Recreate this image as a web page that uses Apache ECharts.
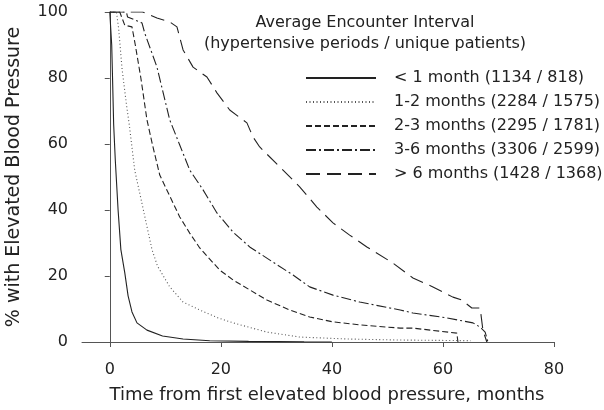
<!DOCTYPE html>
<html>
<head>
<meta charset="utf-8">
<script src="https://cdn.jsdelivr.net/npm/echarts@6/dist/echarts.min.js"></script>
<style>
html,body{margin:0;padding:0;background:#fff;}
#chart{width:604px;height:410px;}
</style>
</head>
<body>
<div id="chart"></div>
<script>
// ---- data (months, % with elevated BP) ----
const seriesNames = ['< 1 month (1134 / 818)', '1-2 months (2284 / 1575)', '2-3 months (2295 / 1781)', '3-6 months (3306 / 2599)', '> 6 months (1428 / 1368)'];
const lt1 = [[0,100],[0.2,100],[0.35,90],[0.5,80],[0.7,66],[1.0,55],[1.5,40],[2.0,28],[2.7,21],[3.3,14],[4.0,9.1],[4.9,5.8],[6.7,3.6],[9.5,1.8],[13.2,0.9],[18,0.4],[25,0.2],[35,0.05],[40,0]];
const m1to2 = [[0,100],[1.2,100],[1.6,95],[2.2,83],[3.0,72],[3.5,66],[4.5,52],[5.8,42],[7.6,28],[8.6,23],[10.8,16.7],[13.2,12.1],[16.2,9.7],[19.5,7.3],[22.2,5.8],[28.3,3.0],[34.2,1.5],[43,0.9],[52,0.6],[65,0.4]];
const m2to3 = [[0,100],[1.8,100],[2.7,96],[4.0,95.5],[4.6,90],[5.6,80],[6.7,67.3],[7.7,59.7],[9.0,50.6],[10.3,46],[12.6,37.9],[14.4,33],[16.2,28.5],[19.8,21.8],[22.2,18.8],[25.2,15.8],[28.3,12.7],[32.4,9.7],[36,7.6],[40.2,6.1],[45,5.2],[52.3,4.2],[54.6,4.2],[62.5,2.7],[62.7,0]];
const m3to6 = [[0,100],[3.0,100],[3.2,98.5],[5.8,96.7],[6.3,93.6],[8.5,83.3],[10.8,67.3],[12.6,59.7],[14.4,52.1],[16.8,46.1],[19.3,39.1],[22.2,33.3],[25.2,28.8],[29.4,24.2],[33,20.3],[36,16.7],[40.2,14.2],[45,12.1],[52.3,9.7],[54.6,8.8],[60.7,7.3],[65.4,5.8],[66.7,4.5],[67.6,3.0],[68.1,0]];
const gt6 = [[0,100],[5.9,100],[8.5,98.2],[10.8,97],[12.1,95.5],[13.2,88.5],[15,83.3],[17.5,80.3],[19.3,75.5],[21.6,70.3],[24.7,66.4],[25.8,62.1],[27,59.1],[31.2,52.1],[34.2,47],[37.3,40.9],[40.2,36.1],[43.2,32.4],[46.3,28.8],[51,23.9],[54.6,19.4],[58.2,16.7],[61.8,13.6],[63.4,12.7],[65.2,10.3],[66.7,10.3],[67.2,3.6],[67.9,0]];
const xTicks = [0, 20, 40, 60, 80];
const titleLines = ['Average Encounter Interval', '(hypertensive periods / unique patients)'];
const xName = 'Time from first elevated blood pressure, months';
const yName = '% with Elevated Blood Pressure';

const dashes = ['solid', [1, 2.5], [6, 3], [10, 3, 2, 3], [14, 7]];
const lineColors = ['#222', '#555', '#222', '#222', '#222'];
const dataSets = [lt1, m1to2, m2to3, m3to6, gt6];
const FONT = 'DejaVu Sans';
const INK = '#222';

const chart = echarts.init(document.getElementById('chart'), null, {renderer: 'canvas'});
chart.setOption({
  animation: false,
  backgroundColor: '#fff',
  title: {
    text: titleLines.join('\n'),
    left: 360, top: 7,
    textAlign: 'center',
    textStyle: {fontFamily: FONT, fontSize: 16, fontWeight: 'normal', color: INK, lineHeight: 21}
  },
  legend: {
    orient: 'vertical',
    left: 305, top: 70, padding: 0,
    itemWidth: 70, itemHeight: 14, itemGap: 8,
    itemStyle: {opacity: 0},
    textStyle: {fontFamily: FONT, fontSize: 16, color: INK, padding: [0, 0, 0, 13]},
    data: seriesNames
  },
  grid: {left: 82, right: 50, top: 12, bottom: 68, containLabel: false, outerBoundsMode: 'none'},
  xAxis: {
    type: 'value', min: -5, max: 80,
    name: xName, nameLocation: 'middle', nameGap: 44,
    nameTextStyle: {fontFamily: FONT, fontSize: 18, color: INK, padding: [0, 0, 0, 18]},
    axisLine: {show: true, onZero: false, lineStyle: {color: '#555', width: 1}},
    axisTick: {show: true, length: 5, customValues: xTicks, lineStyle: {color: '#555'}},
    axisLabel: {customValues: xTicks, margin: 20, fontFamily: FONT, fontSize: 16, color: INK},
    splitLine: {show: false}
  },
  yAxis: {
    type: 'value', min: 0, max: 100, interval: 20,
    name: yName, nameLocation: 'middle', nameGap: 58,
    nameTextStyle: {fontFamily: FONT, fontSize: 19, color: INK},
    axisLine: {show: true, lineStyle: {color: '#555', width: 1}},
    axisTick: {show: true, length: 5, lineStyle: {color: '#555'}},
    axisLabel: {margin: 14, fontFamily: FONT, fontSize: 16, color: INK},
    splitLine: {show: false}
  },
  series: dataSets.map((d, i) => ({
    name: seriesNames[i],
    type: 'line',
    data: d,
    showSymbol: false,
    symbol: 'none',
    lineStyle: {color: lineColors[i], width: 1.1, type: dashes[i]},
    itemStyle: {color: lineColors[i]}
  }))
});
</script>
</body>
</html>
